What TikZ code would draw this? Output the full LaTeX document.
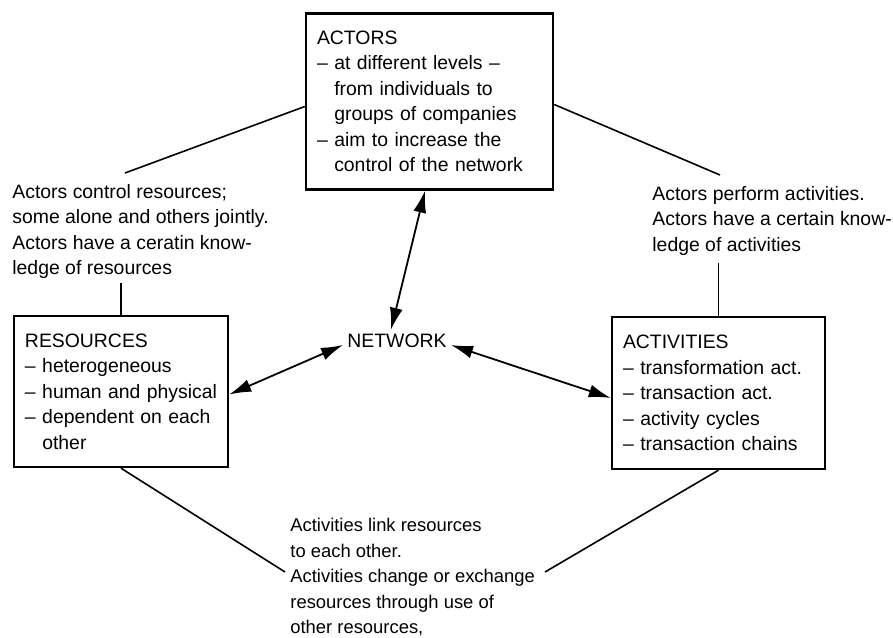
\documentclass[tikz,border=0pt]{standalone}
\usepackage{fontspec}
\setmainfont{Liberation Sans}
\usepackage{tikz}
\usetikzlibrary{arrows.meta, positioning, calc}

\newcommand{\itm}{–\ }
\newcommand{\ind}{\hphantom{–\ }}

\begin{document}
\begin{tikzpicture}[
        x=0.5pt, y=-0.5pt,
        box/.style={rectangle, draw, line width=1.2pt, align=left, inner xsep=5.5pt, inner ysep=0pt, font=\fontsize{9.7}{12.75}\selectfont},
        note/.style={align=left, inner sep=0pt, anchor=north west, font=\fontsize{9.7}{12.75}\selectfont},
        line/.style={line width=0.8pt},
        arrow/.style={{Latex[length=11pt,width=6.5pt]}-{Latex[length=11pt,width=6.5pt]}, line width=0.9pt}
    ]
        \useasboundingbox (0,0) rectangle (893,637);

        \node[box, minimum width=123.5pt, minimum height=88pt, text width=112.5pt] (actors) at (429.5,101.5)
            {ACTORS\\\itm at different levels \itm\\\ind from individuals to\\\ind groups of companies\\\itm aim to increase the\\\ind control of the network};
        \node[box, minimum width=107pt, minimum height=75.5pt, text width=96pt] (resources) at (121,391.5)
            {RESOURCES\\\itm heterogeneous\\\itm human and physical\\\itm dependent on each\\\ind other};
        \node[box, minimum width=106.5pt, minimum height=76pt, text width=95.5pt] (activities) at (718.5,393)
            {ACTIVITIES\\\itm transformation act.\\\itm transaction act.\\\itm activity cycles\\\itm transaction chains};
        \node[inner sep=2pt, font=\fontsize{9.7}{12.75}\selectfont] (network) at (397,341) {NETWORK};

        % relation texts
        \node[note] (ctrlnote) at (12,184) {Actors control resources;\\some alone and others jointly.\\Actors have a ceratin know-\\ledge of resources};
        \node[note] (perfnote) at (652,186) {Actors perform activities.\\Actors have a certain know-\\ledge of activities};
        \node[note, font=\fontsize{9.2}{12.75}\selectfont] (linknote) at (290,518) {Activities link resources\\to each other.\\Activities change or exchange\\resources through use of\\other resources,};

        \coordinate (ctrltop) at (125,173);
        \coordinate (ctrlbot) at (121,283);
        \coordinate (perftop) at (720,175);
        \coordinate (perfbot) at (718.5,263);
        \coordinate (linkleft) at (285,572);
        \coordinate (linkright) at (545,572);

        \draw[line] ([yshift=-2.5pt]actors.west) -- (ctrltop);
        \draw[line] (ctrlbot) -- (resources.north);
        \draw[line] ([yshift=-1.5pt]actors.east) -- (perftop);
        \draw[line] (perfbot) -- (activities.north);
        \draw[line] (resources.south) -- (linkleft);
        \draw[line] (activities.south) -- (linkright);

        \draw[arrow] ([xshift=-3pt]network.north) -- ([xshift=-2.25pt]actors.south);
        \draw[arrow] ([yshift=-2pt]network.west) -- ([yshift=-1.5pt]resources.east);
        \draw[arrow] ([yshift=-2pt]network.east) -- ([yshift=-2.5pt]activities.west);
    \end{tikzpicture}
\end{document}
